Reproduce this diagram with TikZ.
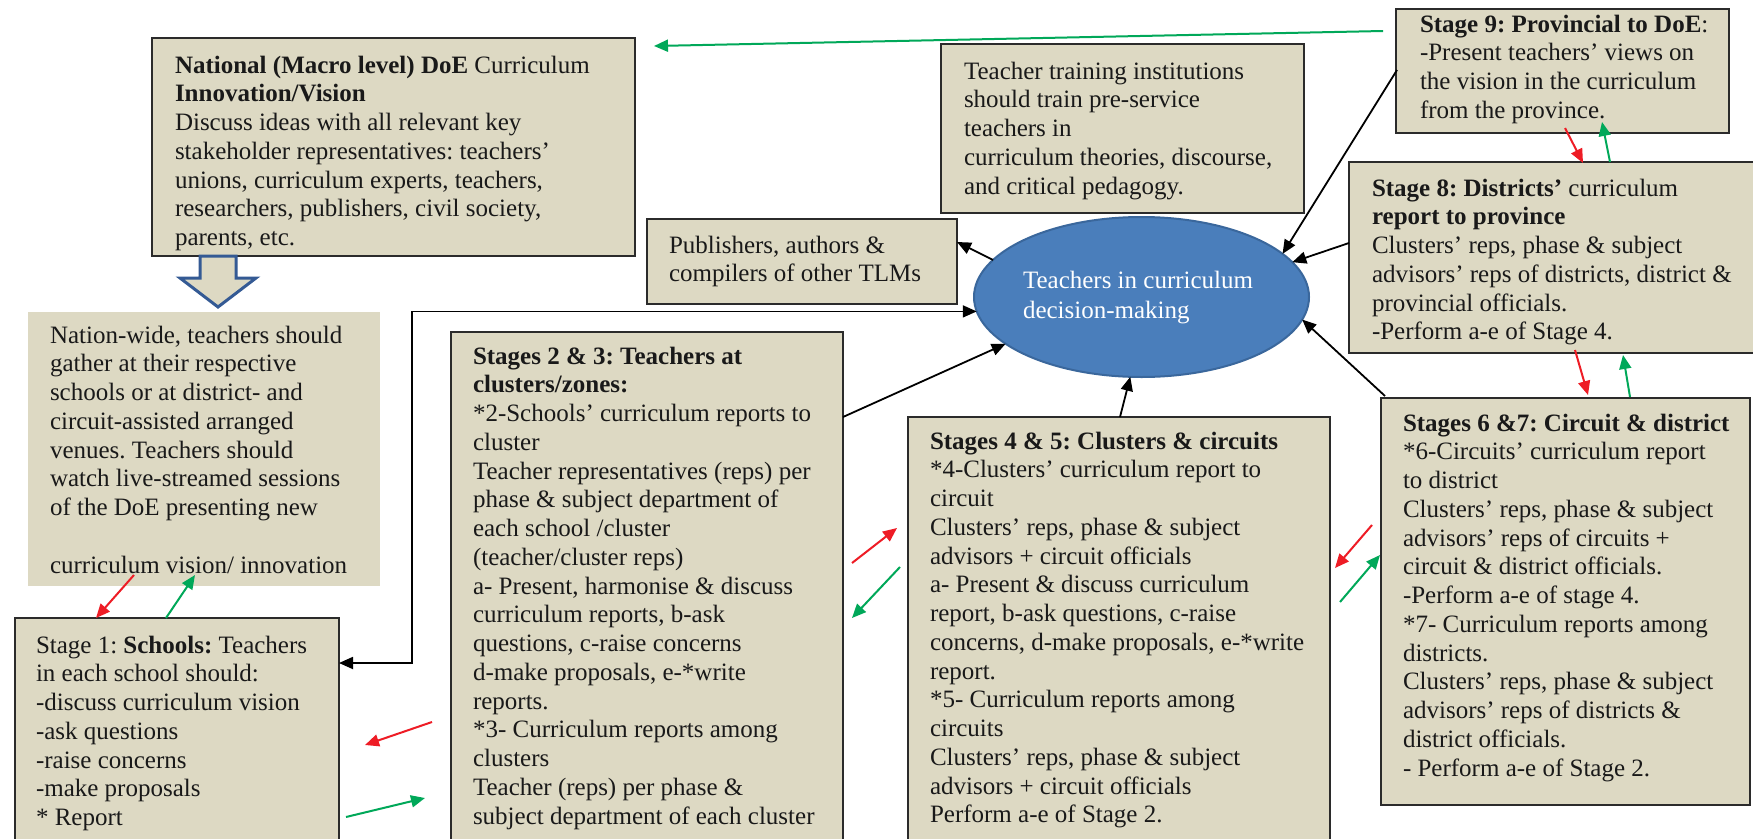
\documentclass[tikz,border=0pt]{standalone}
\usepackage{fontspec}
\setmainfont{Liberation Serif}
\usetikzlibrary{arrows.meta,calc,shapes.geometric}
\definecolor{beige}{HTML}{DDD9C3}
\definecolor{bord}{HTML}{2B2B2B}
\definecolor{ellfill}{HTML}{4A7EBB}
\definecolor{elldraw}{HTML}{3A679C}
\definecolor{hollowblue}{HTML}{345A94}
\definecolor{arrred}{HTML}{EE1C25}
\definecolor{arrgreen}{HTML}{00A859}
\newcommand{\fl}{\rule{0pt}{20pt}}
\frenchspacing
\begin{document}
\begin{tikzpicture}[x=1pt,y=-1pt,
  box/.style={draw=bord, line width=2.5pt, fill=beige, rectangle, anchor=north west, inner sep=0pt, outer sep=0pt},
  plainbox/.style={fill=beige, rectangle, anchor=north west, inner sep=0pt, outer sep=0pt},
  txt/.style={anchor=north west, inner sep=0pt, outer sep=0pt, align=left, font=\fontsize{25}{28.75}\selectfont\frenchspacing, text=black!90},
  blk/.style={draw=black, line width=1.8pt, -{Triangle[length=14pt,width=12pt]}},
  blkboth/.style={draw=black, line width=1.8pt, {Triangle[length=14pt,width=12pt]}-{Triangle[length=14pt,width=12pt]}},
  redarr/.style={draw=arrred, line width=2pt, -{Triangle[length=14pt,width=12pt]}},
  grnarr/.style={draw=arrgreen, line width=2pt, -{Triangle[length=14pt,width=12pt]}},
  hollowarrow/.style={draw=hollowblue, line width=3pt, fill=beige, line join=miter},
]
\useasboundingbox (0,0) rectangle (1753,838);
\clip (0,0) rectangle (1753,838);
\fill[white] (0,0) rectangle (1753,838);

% ---------- boxes ----------
\node[box, minimum width=483pt, minimum height=218pt] (nat) at (152,38) {};
\node[plainbox, minimum width=352pt, minimum height=274pt] (nw) at (28,312) {};
\node[box, minimum width=324pt, minimum height=250pt] (s1) at (15,618) {};
\node[box, minimum width=392pt, minimum height=530pt] (s23) at (451,332) {};
\node[box, minimum width=422pt, minimum height=450pt] (s45) at (908,417) {};
\node[box, minimum width=369pt, minimum height=407pt] (s67) at (1381,398) {};
\node[box, minimum width=420pt, minimum height=191pt] (s8) at (1349,162) {};
\node[box, minimum width=333pt, minimum height=124pt] (s9) at (1396,9) {};
\node[box, minimum width=363pt, minimum height=169pt] (tti) at (941,44) {};
\node[box, minimum width=310pt, minimum height=85pt] (pub) at (647,219) {};
\node[ellipse, draw=elldraw, line width=2pt, fill=ellfill, minimum width=335pt, minimum height=160pt, inner sep=0pt, outer sep=0pt] (ell) at (1141.5,297) {};

% ---------- texts ----------
\node[txt] (natt) at ($(nat.north west)+(23,15)$) {\fl\textbf{National (Macro level) DoE} Curriculum\\
\textbf{Innovation/Vision}\\
Discuss ideas with all relevant key\\
stakeholder representatives: teachers’\\
unions, curriculum experts, teachers,\\
researchers, publishers, civil society,\\
parents, etc.};

\node[txt] (nwt) at ($(nw.north west)+(22,11)$) {\fl Nation-wide, teachers should\\
gather at their respective\\
schools or at district- and\\
circuit-assisted arranged\\
venues. Teachers should\\
watch live-streamed sessions\\
of the DoE presenting new\\
\fl\\
curriculum vision/ innovation};

\node[txt] (s1t) at ($(s1.north west)+(21,15)$) {\fl Stage 1: \textbf{Schools:} Teachers\\
in each school should:\\
-discuss curriculum vision\\
-ask questions\\
-raise concerns\\
-make proposals\\
* Report};

\node[txt] (s23t) at ($(s23.north west)+(22,12)$) {\fl\textbf{Stages 2 \& 3: Teachers at}\\
\textbf{clusters/zones:}\\
*2-Schools’ curriculum reports to\\
cluster\\
Teacher representatives (reps) per\\
phase \& subject department of\\
each school /cluster\\
(teacher/cluster reps)\\
a- Present, harmonise \& discuss\\
curriculum reports, b-ask\\
questions, c-raise concerns\\
d-make proposals, e-*write\\
reports.\\
*3- Curriculum reports among\\
clusters\\
Teacher (reps) per phase \&\\
subject department of each cluster};

\node[txt] (s45t) at ($(s45.north west)+(22,12)$) {\fl\textbf{Stages 4 \& 5: Clusters \& circuits}\\
*4-Clusters’ curriculum report to\\
circuit\\
Clusters’ reps, phase \& subject\\
advisors + circuit officials\\
a- Present \& discuss curriculum\\
report, b-ask questions, c-raise\\
concerns, d-make proposals, e-*write\\
report.\\
*5- Curriculum reports among\\
circuits\\
Clusters’ reps, phase \& subject\\
advisors + circuit officials\\
Perform a-e of Stage 2.};

\node[txt] (s67t) at ($(s67.north west)+(22,13)$) {\fl\textbf{Stages 6 \&7: Circuit \& district}\\
*6-Circuits’ curriculum report\\
to district\\
Clusters’ reps, phase \& subject\\
advisors’ reps of circuits +\\
circuit \& district officials.\\
-Perform a-e of stage 4.\\
*7- Curriculum reports among\\
districts.\\
Clusters’ reps, phase \& subject\\
advisors’ reps of districts \&\\
district officials.\\
- Perform a-e of Stage 2.};

\node[txt] (s8t) at ($(s8.north west)+(23,14)$) {\fl\textbf{Stage 8: Districts’} curriculum\\
\textbf{report to province}\\
Clusters’ reps, phase \& subject\\
advisors’ reps of districts, district \&\\
provincial officials.\\
-Perform a-e of Stage 4.};

\node[txt] (s9t) at ($(s9.north west)+(24,3)$) {\fl\textbf{Stage 9: Provincial to DoE}:\\
-Present teachers’ views on\\
the vision in the curriculum\\
from the province.};

\node[txt] (ttit) at ($(tti.north west)+(23,15)$) {\fl Teacher training institutions\\
should train pre-service\\
teachers in\\
curriculum theories, discourse,\\
and critical pedagogy.};

\node[txt] (pubt) at ($(pub.north west)+(22,14)$) {\fl Publishers, authors \&\\
compilers of other TLMs};

\node[txt, text=white, font=\fontsize{25}{30}\selectfont] (ellt) at ($(ell.center)+(-118.5,-29)$) {\fl Teachers in curriculum\\
decision-making};

% ---------- hollow block arrow ----------
\coordinate (ha) at ($(nat.south west)+(66,0)$);
\draw[hollowarrow, shift={(ha)}] (-18,0) -- (18,0) -- (18,22) -- (38,22) -- (0,51) -- (-38,22) -- (-18,22) -- cycle;

% ---------- black connectors ----------
\draw[blk] (ell.166) -- ($(pub.north east)+(0,23)$);
\coordinate (bend) at ($(s1.north east)+(73,45)$);
\draw[blkboth] (ell.185) -| (bend) -- (bend -| s1.east);
\draw[blk] ($(s23.north east)+(0,85)$) -- (ell.199);
\draw[blk] ($(s45.north west)+(212,0)$) -- (ell.262);
\draw[blk] ($(s9.north west)+(1,61)$) -- (ell.17);
\draw[blk] ($(s8.north west)+(0,81)$) -- (ell.13);
\draw[blk] ($(s67.north west)+(4,-2)$) -- (ell.-8);

% ---------- green top arrow ----------
\draw[grnarr] ($(s9.north west)+(-13,22)$) -- ($(nat.north east)+(19,8)$);

% ---------- red / green exchange arrows ----------
\draw[redarr] ($(nw.south west)+(106,-11)$) -- ($(s1.north west)+(81,0)$);
\draw[grnarr] ($(s1.north west)+(151,0)$) -- ($(nw.south west)+(167,-11)$);

\draw[redarr] ($(s23.north west)+(-19,390)$) -- ($(s1.north east)+(26,127)$);
\draw[grnarr] ($(s1.north east)+(7,199)$) -- ($(s23.north west)+(-26,466)$);

\draw[redarr] ($(s23.north east)+(9,231)$) -- ($(s45.north west)+(-11,111)$);
\draw[grnarr] ($(s45.north west)+(-8,150)$) -- ($(s23.north east)+(9,286)$);

\draw[redarr] ($(s67.north west)+(-9,127)$) -- ($(s45.north east)+(5,151)$);
\draw[grnarr] ($(s45.north east)+(10,185)$) -- ($(s67.north west)+(-1,157)$);

\draw[redarr] ($(s9.south west)+(169,-5)$) -- ($(s8.north west)+(234,1)$);
\draw[grnarr] ($(s8.north west)+(261,0)$) -- ($(s9.south west)+(206,-11)$);

\draw[redarr] ($(s8.south west)+(226,-3)$) -- ($(s67.north west)+(207,-3)$);
\draw[grnarr] ($(s67.north west)+(249,-1)$) -- ($(s8.south west)+(274,2)$);
\end{tikzpicture}
\end{document}
